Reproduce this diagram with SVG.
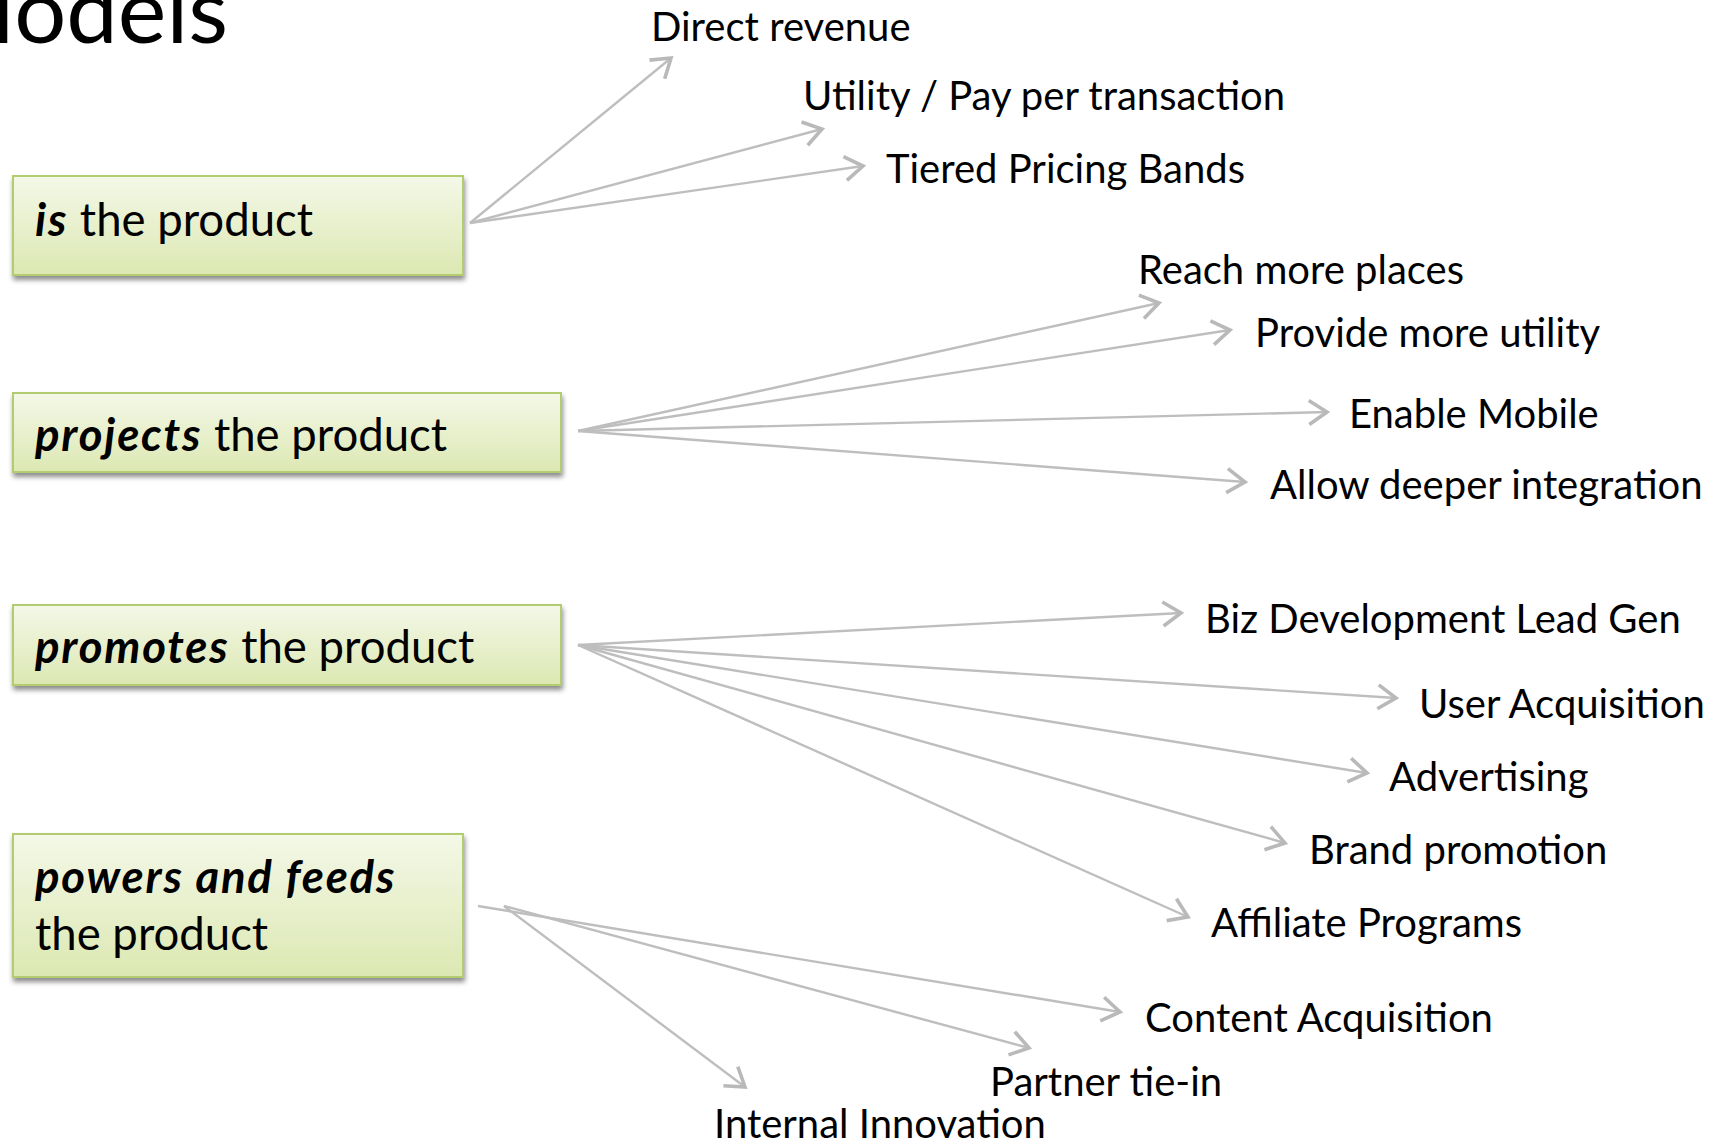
<svg xmlns="http://www.w3.org/2000/svg" width="1726" height="1145" viewBox="0 0 1726 1145">
<defs>
<linearGradient id="boxfill" x1="0" y1="0" x2="0" y2="1">
<stop offset="0" stop-color="#f4f8e8"/>
<stop offset="1" stop-color="#dce8b2"/>
</linearGradient>
<filter id="shadow" x="-5%" y="-10%" width="110%" height="130%">
<feDropShadow dx="1" dy="4" stdDeviation="2.5" flood-color="#000" flood-opacity="0.45"/>
</filter>
<marker id="arrow" viewBox="-22 -14 26 28" refX="0" refY="0" markerWidth="26" markerHeight="28" markerUnits="userSpaceOnUse" orient="auto">
<path d="M-18,-12 L0,0 L-18,12" fill="none" stroke="#b9b9b9" stroke-width="3.6" stroke-linejoin="miter"/>
</marker>
<style>
.box{fill:url(#boxfill);stroke:#b3cc70;stroke-width:2;filter:url(#shadow)}
.bt{font-family:Lato,"Liberation Sans",sans-serif;font-size:45.5px;fill:#000}
.bi{font-weight:bold;font-style:italic;letter-spacing:1.8px}
.lb{font-family:Lato,"Liberation Sans",sans-serif;font-size:40px;fill:#000}
.title{font-family:Lato,"Liberation Sans",sans-serif;font-size:92px;fill:#000}
.cn{stroke:#bebebe;stroke-width:2.4;fill:none;marker-end:url(#arrow)}
</style>
</defs>
<rect width="1726" height="1145" fill="#fff"/>
<g id="title"><text class="title" x="228" y="43" text-anchor="end">Models</text></g>

<g id="connectors">
<line class="cn" x1="470" y1="223" x2="671" y2="58"/>
<line class="cn" x1="470" y1="223" x2="822" y2="129"/>
<line class="cn" x1="470" y1="223" x2="863" y2="166"/>
<line class="cn" x1="578" y1="431" x2="1159" y2="303"/>
<line class="cn" x1="578" y1="431" x2="1230" y2="330"/>
<line class="cn" x1="578" y1="431" x2="1327" y2="412"/>
<line class="cn" x1="578" y1="431" x2="1245" y2="482"/>
<line class="cn" x1="578" y1="645" x2="1181" y2="613"/>
<line class="cn" x1="578" y1="645" x2="1396" y2="698"/>
<line class="cn" x1="578" y1="645" x2="1367" y2="773"/>
<line class="cn" x1="578" y1="645" x2="1285" y2="843"/>
<line class="cn" x1="578" y1="645" x2="1188" y2="917"/>
<line class="cn" x1="478" y1="906" x2="1120" y2="1012"/>
<line class="cn" x1="504" y1="906" x2="1029" y2="1048"/>
<line class="cn" x1="504" y1="906" x2="745" y2="1087"/>
</g>

<g id="node-is">
<rect class="box" x="13" y="176" width="450" height="99"/>
<text class="bt" x="35" y="236"><tspan class="bi">is</tspan> the product</text>
</g>
<g id="node-projects">
<rect class="box" x="13" y="393" width="548" height="79"/>
<text class="bt" x="35" y="451"><tspan class="bi">projects</tspan> the product</text>
</g>
<g id="node-promotes">
<rect class="box" x="13" y="605" width="548" height="80"/>
<text class="bt" x="35" y="663"><tspan class="bi">promotes</tspan> the product</text>
</g>
<g id="node-powers">
<rect class="box" x="13" y="834" width="450" height="143"/>
<text class="bt" x="35" y="893"><tspan class="bi">powers and feeds</tspan></text>
<text class="bt" x="35" y="950">the product</text>
</g>

<g id="label-direct"><text class="lb" x="651" y="41">Direct revenue</text></g>
<g id="label-utility"><text class="lb" x="803" y="110">Utility / Pay per transaction</text></g>
<g id="label-tiered"><text class="lb" x="886" y="183">Tiered Pricing Bands</text></g>
<g id="label-reach"><text class="lb" x="1138" y="284">Reach more places</text></g>
<g id="label-provide"><text class="lb" x="1255" y="347">Provide more utility</text></g>
<g id="label-mobile"><text class="lb" x="1349" y="428">Enable Mobile</text></g>
<g id="label-allow"><text class="lb" x="1270" y="499">Allow deeper integration</text></g>
<g id="label-biz"><text class="lb" x="1205" y="633">Biz Development Lead Gen</text></g>
<g id="label-user"><text class="lb" x="1419" y="718">User Acquisition</text></g>
<g id="label-adv"><text class="lb" x="1389" y="791">Advertising</text></g>
<g id="label-brand"><text class="lb" x="1309" y="864">Brand promotion</text></g>
<g id="label-affiliate"><text class="lb" x="1211" y="937">Affiliate Programs</text></g>
<g id="label-content"><text class="lb" x="1145" y="1032">Content Acquisition</text></g>
<g id="label-partner"><text class="lb" x="990" y="1096">Partner tie-in</text></g>
<g id="label-internal"><text class="lb" x="714" y="1138">Internal Innovation</text></g>
</svg>
